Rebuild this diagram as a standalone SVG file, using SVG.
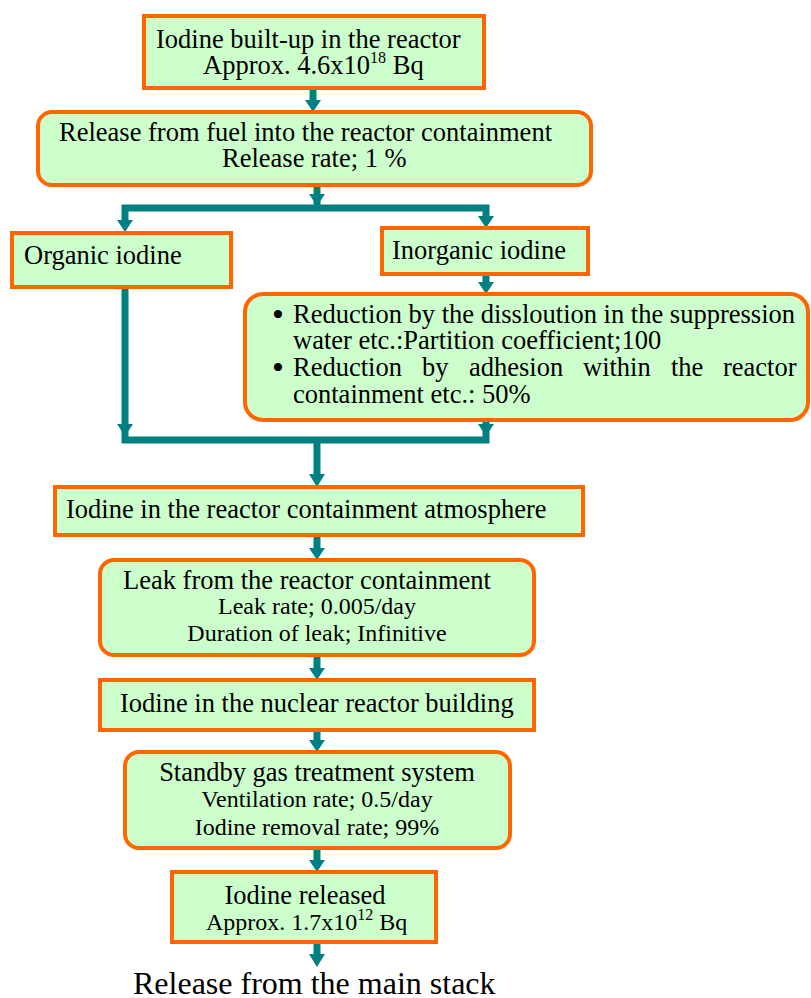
<svg xmlns="http://www.w3.org/2000/svg" width="811" height="998" viewBox="0 0 811 998">
  <defs>
    <style>
      .box { fill: #CCFFCC; stroke: #FF6600; stroke-width: 4; }
      .t { font-family: "Liberation Serif", "Times New Roman", serif; fill: #000; }
      .big { font-size: 26.5px; }
      .mid { font-size: 24px; }
      .sup { font-size: 16px; }
      .bullet { font-size: 34px; }
      .flow { stroke: #008080; stroke-width: 7; fill: none; }
      .head { fill: #008080; }
    </style>
  </defs>

  <!-- connectors -->
  <g id="connectors">
    <line class="flow" x1="313" y1="88" x2="313" y2="102"/>
    <polygon class="head" points="305,100 321,100 313,112"/>

    <line class="flow" x1="317" y1="185" x2="317" y2="208"/>
    <polygon class="head" points="309,194 325,194 317,206"/>
    <polyline class="flow" points="125,222 125,208 486,208 486,222"/>
    <polygon class="head" points="117,220 133,220 125,232"/>
    <polygon class="head" points="478,216 494,216 486,228"/>

    <line class="flow" x1="486" y1="274" x2="486" y2="284"/>
    <polygon class="head" points="478,282 494,282 486,294"/>

    <polyline class="flow" points="125,287 125,440 486,440 486,420"/>
    <polygon class="head" points="117,424 133,424 125,436"/>
    <polygon class="head" points="478,424 494,424 486,436"/>
    <line class="flow" x1="317" y1="440" x2="317" y2="476"/>
    <polygon class="head" points="309,474 325,474 317,487"/>

    <line class="flow" x1="317" y1="535" x2="317" y2="550"/>
    <polygon class="head" points="309,548 325,548 317,560"/>

    <line class="flow" x1="317" y1="655" x2="317" y2="670"/>
    <polygon class="head" points="309,668 325,668 317,680"/>

    <line class="flow" x1="317" y1="730" x2="317" y2="742"/>
    <polygon class="head" points="309,740 325,740 317,752"/>

    <line class="flow" x1="317" y1="848" x2="317" y2="862"/>
    <polygon class="head" points="309,860 325,860 317,872"/>

    <line class="flow" x1="317" y1="942" x2="317" y2="956"/>
    <polygon class="head" points="309,954 325,954 317,967"/>
  </g>

  <g id="buildup">
    <rect class="box" x="144" y="16" width="340" height="72"/>
    <text class="t big" x="156" y="48">Iodine built-up in the reactor</text>
    <text class="t big" x="203" y="74">Approx. 4.6x10<tspan class="sup" dy="-11">18</tspan><tspan dy="11"> Bq</tspan></text>
  </g>

  <g id="release-fuel">
    <rect class="box" x="38" y="112" width="553" height="73" rx="14"/>
    <text class="t big" x="59" y="141">Release from fuel into the reactor containment</text>
    <text class="t big" x="222" y="167">Release rate; 1 %</text>
  </g>

  <g id="organic">
    <rect class="box" x="12" y="233" width="219" height="54"/>
    <text class="t big" x="24" y="264">Organic iodine</text>
  </g>

  <g id="inorganic">
    <rect class="box" x="382" y="228" width="206" height="46"/>
    <text class="t big" x="392" y="259">Inorganic iodine</text>
  </g>

  <g id="reduction">
    <rect class="box" x="245" y="294" width="563" height="126" rx="18"/>
    <text class="t bullet" x="272" y="326">•</text>
    <text class="t big" x="293" y="323">Reduction by the dissloution in the suppression</text>
    <text class="t big" x="293" y="349">water etc.:Partition coefficient;100</text>
    <text class="t bullet" x="272" y="379">•</text>
    <text class="t big" y="376"><tspan x="293">Reduction</tspan><tspan x="422">by</tspan><tspan x="469">adhesion</tspan><tspan x="583">within</tspan><tspan x="671">the</tspan><tspan x="723">reactor</tspan></text>
    <text class="t big" x="293" y="403">containment etc.: 50%</text>
  </g>

  <g id="atmosphere">
    <rect class="box" x="55" y="487" width="528" height="48"/>
    <text class="t big" x="66" y="518">Iodine in the reactor containment atmosphere</text>
  </g>

  <g id="leak">
    <rect class="box" x="100" y="560" width="434" height="95" rx="14"/>
    <text class="t big" x="123" y="589">Leak from the reactor containment</text>
    <text class="t mid" x="317" y="614" text-anchor="middle">Leak rate; 0.005/day</text>
    <text class="t mid" x="317" y="641" text-anchor="middle">Duration of leak; Infinitive</text>
  </g>

  <g id="building">
    <rect class="box" x="100" y="680" width="434" height="50"/>
    <text class="t big" x="120" y="712">Iodine in the nuclear reactor building</text>
  </g>

  <g id="sgts">
    <rect class="box" x="125" y="752" width="385" height="96" rx="14"/>
    <text class="t big" x="317" y="781" text-anchor="middle">Standby gas treatment system</text>
    <text class="t mid" x="317" y="807" text-anchor="middle">Ventilation rate; 0.5/day</text>
    <text class="t mid" x="317" y="835" text-anchor="middle">Iodine removal rate; 99%</text>
  </g>

  <g id="released">
    <rect class="box" x="172" y="872" width="264" height="70"/>
    <text class="t big" x="305" y="904" text-anchor="middle">Iodine released</text>
    <text class="t mid" x="206" y="930">Approx. 1.7x10<tspan class="sup" dy="-10">12</tspan><tspan dy="10"> Bq</tspan></text>
  </g>

  <g id="stack">
    <text class="t" style="font-size:32px" x="133" y="994">Release from the main stack</text>
  </g>
</svg>
